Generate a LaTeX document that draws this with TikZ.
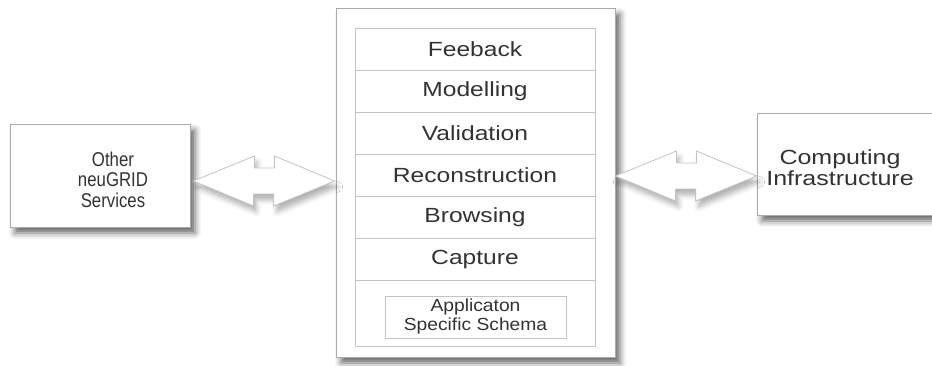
\documentclass[tikz,border=0pt]{standalone}
\usepackage{graphicx}
\usepackage{fontspec}
\setmainfont{Liberation Sans}
\usetikzlibrary{calc,shadows.blur}
\definecolor{ink}{HTML}{333333}
\definecolor{frame}{HTML}{ABABAB}
\definecolor{rule}{HTML}{C4C4C4}
\newcommand{\stretchx}[2]{\scalebox{#1}[1]{\begin{tabular}{@{}c@{}}#2\end{tabular}}}

\begin{document}
\begin{tikzpicture}[x=1pt,y=-1pt,
  box/.style={draw=frame,fill=white,line width=0.8pt,inner sep=0pt,text=ink},
  txt/.style={inner sep=0pt,text=ink},
  soft/.style={blur shadow={shadow xshift=5pt,shadow yshift=-6pt,shadow blur radius=6pt,shadow opacity=60}},
  faint/.style={blur shadow={shadow xshift=3pt,shadow yshift=-6pt,shadow blur radius=5pt,shadow opacity=30}},
  row/.style={draw=rule,line width=0.8pt,minimum width=240pt,minimum height=42pt,inner sep=0pt,text=ink,font=\fontsize{20.5}{20}\selectfont},
  arr/.style={draw=rule,fill=white,line width=0.8pt,line join=miter}]
  \useasboundingbox (0,0) rectangle (932,366);
  % side boxes
  \node[box,soft,minimum width=180pt,minimum height=103pt] (other) at (100,175.5) {};
  \node[txt,font=\fontsize{20}{20}\selectfont] (othertxt) at (113,183) {\stretchx{0.84}{Other\\neuGRID\\Services}};
  \node[box,soft,minimum width=180pt,minimum height=102pt] (infra) at (847,164) {};
  \node[txt,font=\fontsize{20.5}{18.5}\selectfont] (infratxt) at (840,170.5) {\stretchx{1.22}{Computing\\Infrastructure}};
  % core stack
  \node[box,soft,minimum width=279pt,minimum height=349pt] (core) at (475.5,182.5) {};
  \node[draw=rule,line width=0.8pt,minimum width=240pt,minimum height=318pt,inner sep=0pt] (stack) at (475,187) {};
  \foreach \t [count=\i] in {Feeback,Modelling,Validation,Reconstruction,Browsing,Capture}
    \node[row] (r\i) at (475,7+42*\i) {\scalebox{1.2}[1]{\t}};
  \node[row,minimum width=181pt,font=\fontsize{17.5}{19}\selectfont] (schema) at (475.5,317) {\stretchx{1.1}{Applicaton\\Specific Schema}};
  % double arrows
  \coordinate (la) at ($(other.east)+(3,5.5)$);
  \coordinate (lb) at ($(core.west)+(-1,-1.5)$);
  \coordinate (ra) at ($(core.east)+(0,-6.5)$);
  \coordinate (rb) at ($(infra.west)+(0,12)$);
  \foreach \p/\q in {la/lb,ra/rb}
    \draw[arr,faint] (\p) -- ++(61,-25) -- ++(0,12) -- ++(20,0) -- ++(0,-12) -- (\q) -- ++(-61,25) -- ++(0,-12) -- ++(-20,0) -- ++(0,12) -- cycle;
\end{tikzpicture}
\end{document}
